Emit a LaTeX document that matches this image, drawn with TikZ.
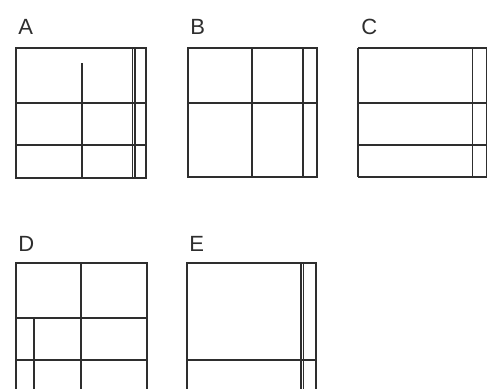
\documentclass[tikz,border=0pt]{standalone}
\usepackage{fontspec}
\setmainfont{Liberation Sans}
\definecolor{ln}{HTML}{2E2E2E}
\begin{document}
\begin{tikzpicture}[x=0.75pt,y=-0.75pt,
  pline/.style={draw=ln,line width=1.2pt},
  lbl/.style={anchor=base west,inner sep=0pt,text=ln,font=\fontsize{16.5pt}{18pt}\selectfont}]
\useasboundingbox (0,0) rectangle (487,389);
% labels
\node[lbl] (la) at (18,35) {A};
\node[lbl] (lb) at (190,35) {B};
\node[lbl] (lc) at (361,35) {C};
\node[lbl] (ld) at (18,252) {D};
\node[lbl] (le) at (189,252) {E};
% A
\draw[pline] (16,48) rectangle (146,178);
\draw[pline] (16,103) -- (146,103);
\draw[pline] (16,145) -- (146,145);
\draw[pline] (82,63) -- (82,178);
\draw[pline] (132.3,48) -- (132.3,178);
\draw[pline] (135,48) -- (135,178);
% B
\draw[pline] (188,48) rectangle (317,177);
\draw[pline] (188,103) -- (317,103);
\draw[pline] (252,48) -- (252,177);
\draw[pline] (303,48) -- (303,177);
% C
\draw[pline] (358,48) -- (487,48);
\draw[pline] (358,177) -- (487,177);
\draw[pline] (358,48) -- (358,177);
\draw[pline] (486.6,48) -- (486.6,177);
\draw[pline] (358,103) -- (487,103);
\draw[pline] (358,145) -- (487,145);
\draw[pline] (472.5,48) -- (472.5,177);
% D
\draw[pline] (16,400) -- (16,263) -- (147,263) -- (147,400);
\draw[pline] (16,318) -- (147,318);
\draw[pline] (16,360) -- (147,360);
\draw[pline] (81,263) -- (81,400);
\draw[pline] (34,318) -- (34,400);
% E
\draw[pline] (187,400) -- (187,263) -- (316,263) -- (316,400);
\draw[pline] (187,360) -- (316,360);
\draw[pline] (300.7,263) -- (300.7,400);
\draw[pline] (303.3,263) -- (303.3,400);
\end{tikzpicture}
\end{document}
